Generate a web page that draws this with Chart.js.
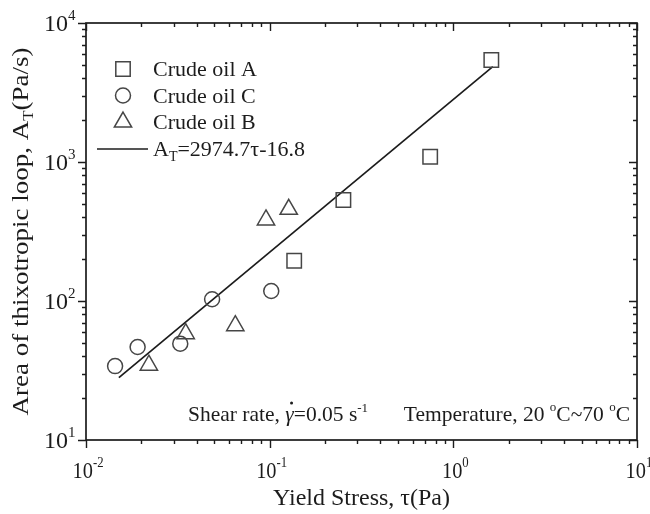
<!DOCTYPE html>
<html>
<head>
<meta charset="utf-8">
<script src="https://cdn.jsdelivr.net/npm/chart.js@4/dist/chart.umd.min.js"></script>
<style>
  html, body { margin: 0; padding: 0; background: #fff; }
  #wrap { width: 650px; height: 514px; }
</style>
</head>
<body>
<div id="wrap"><canvas id="loopChart" width="650" height="514"></canvas></div>
<script>
// yield stress (Pa) and thixotropic loop area (Pa/s) per crude
const oilA_tau = [1.61, 0.748, 0.252, 0.136];
const oilA_area = [5420, 1090, 533, 195];
const oilC_tau = [0.0144, 0.0191, 0.0326, 0.0486, 0.102];
const oilC_area = [34, 46.7, 49.3, 103, 118];
const oilB_tau = [0.022, 0.0349, 0.065, 0.0955, 0.127];
const oilB_area = [34.5, 58.2, 66.4, 383, 457];

// fitted line A_T = 2974.7τ - 16.8, drawn between its two end points
const fitTau = [0.0151, 1.64];
const fitArea = [28.1, 4861.7];

const xDecades = [-2, -1, 0, 1];
const yDecades = [1, 2, 3, 4];

const legendItems = [
  { style: 'rect', text: 'Crude oil A' },
  { style: 'circle', text: 'Crude oil C' },
  { style: 'triangle', text: 'Crude oil B' }
];

const ink = '#1c1c1c';
const markInk = '#464646';
const serif = '"Liberation Serif", "Times New Roman", serif';

function pts(xs, ys) {
  return xs.map((x, i) => ({ x: x, y: ys[i] }));
}

function font(size, italic) {
  return (italic ? 'italic ' : '') + size + 'px ' + serif;
}

// draws a row of text pieces (some raised or lowered); sx narrows the glyphs
function drawRuns(ctx, runs, x, y, align, sx) {
  sx = sx || 1;
  let total = 0;
  runs.forEach(r => {
    ctx.font = font(r.size, r.italic);
    r.w = ctx.measureText(r.t).width * sx;
    total += r.w;
  });
  let cx = align === 'center' ? x - total / 2 : align === 'right' ? x - total : x;
  ctx.textAlign = 'left';
  ctx.textBaseline = 'alphabetic';
  runs.forEach(r => {
    ctx.font = font(r.size, r.italic);
    ctx.save();
    ctx.translate(cx, y + (r.dy || 0));
    ctx.scale(sx, 1);
    ctx.fillText(r.t, 0, 0);
    ctx.restore();
    r.x = cx;
    cx += r.w;
  });
  return runs;
}

function decadeLabel(n, size) {
  return [
    { t: '10', size: size },
    { t: String(n), size: 15, dy: -11 }
  ];
}

function drawMarker(ctx, style, x, y) {
  ctx.beginPath();
  if (style === 'rect') {
    const s = 7.2;
    ctx.rect(x - s, y - s, 2 * s, 2 * s);
  } else if (style === 'circle') {
    ctx.arc(x, y, 7.5, 0, Math.PI * 2);
  } else {
    const r = 10;
    ctx.moveTo(x, y - r);
    ctx.lineTo(x + r * Math.sqrt(3) / 2, y + r / 2);
    ctx.lineTo(x - r * Math.sqrt(3) / 2, y + r / 2);
    ctx.closePath();
  }
  ctx.stroke();
}

const frame = {
  id: 'frame',
  afterDraw(chart) {
    const ctx = chart.ctx;
    const a = chart.chartArea;
    const xs = chart.scales.x;
    const ys = chart.scales.y;
    ctx.save();
    ctx.strokeStyle = ink;
    ctx.fillStyle = ink;

    // axis box
    ctx.lineWidth = 1.7;
    ctx.strokeRect(a.left, a.top, a.right - a.left, a.bottom - a.top);

    // tick marks: left/bottom point out, right/top mirror them
    ctx.lineWidth = 1.4;
    ctx.beginPath();
    for (let i = 0; i < xDecades.length; i++) {
      const d = xDecades[i];
      const last = i === xDecades.length - 1;
      for (let m = 1; m <= (last ? 1 : 9); m++) {
        const px = Math.round(xs.getPixelForValue(m * Math.pow(10, d))) + 0.5;
        const len = m === 1 ? 8 : 4;
        ctx.moveTo(px, a.bottom); ctx.lineTo(px, a.bottom + len);
        ctx.moveTo(px, a.top); ctx.lineTo(px, a.top + len);
      }
    }
    for (let i = 0; i < yDecades.length; i++) {
      const d = yDecades[i];
      const last = i === yDecades.length - 1;
      for (let m = 1; m <= (last ? 1 : 9); m++) {
        const py = Math.round(ys.getPixelForValue(m * Math.pow(10, d))) + 0.5;
        const len = m === 1 ? 8 : 4;
        ctx.moveTo(a.left, py); ctx.lineTo(a.left - len, py);
        ctx.moveTo(a.right, py); ctx.lineTo(a.right - len, py);
      }
    }
    ctx.stroke();

    // decade labels
    xDecades.forEach(d => {
      drawRuns(ctx, decadeLabel(d, 24), xs.getPixelForValue(Math.pow(10, d)) + 2, a.bottom + 38, 'center', 0.85);
    });
    yDecades.forEach(d => {
      ctx.font = font(24);
      const w10 = ctx.measureText('10').width;
      drawRuns(ctx, decadeLabel(d, 24), 68 - w10, ys.getPixelForValue(Math.pow(10, d)) + 8, 'left');
    });

    // axis titles
    drawRuns(ctx, [{ t: 'Yield Stress, τ(Pa)', size: 24 }], (a.left + a.right) / 2, 505, 'center');
    ctx.save();
    ctx.translate(28, (a.top + a.bottom) / 2);
    ctx.scale(0.88, 1);
    ctx.rotate(-Math.PI / 2);
    drawRuns(ctx, [
      { t: 'Area of thixotropic loop, A', size: 27 },
      { t: 'T', size: 17, dy: 6 },
      { t: '(Pa/s)', size: 27 }
    ], 0, 0, 'center');
    ctx.restore();

    // legend
    ctx.strokeStyle = markInk;
    ctx.lineWidth = 1.5;
    legendItems.forEach((it, i) => {
      const y = 69 + i * 26.5;
      drawMarker(ctx, it.style, 123, y);
      ctx.fillStyle = ink;
      drawRuns(ctx, [{ t: it.text, size: 22 }], 153, y + 7, 'left');
    });
    ctx.strokeStyle = ink;
    ctx.lineWidth = 1.6;
    ctx.beginPath();
    ctx.moveTo(97, 149);
    ctx.lineTo(148, 149);
    ctx.stroke();
    drawRuns(ctx, [
      { t: 'A', size: 22 },
      { t: 'T', size: 14, dy: 5 },
      { t: '=2974.7τ-16.8', size: 22 }
    ], 153, 156, 'left');

    // test conditions
    const base = 421;
    const cond = drawRuns(ctx, [
      { t: 'Shear rate, ', size: 21.5 },
      { t: 'γ', size: 21.5, italic: true },
      { t: '=0.05 s', size: 21.5 },
      { t: '-1', size: 13, dy: -9 }
    ], 188, base, 'left');
    const g = cond[1];
    ctx.beginPath();
    ctx.arc(g.x + g.w / 2 + 2, base - 18, 1.5, 0, Math.PI * 2);
    ctx.fill();

    drawRuns(ctx, [
      { t: 'Temperature, 20 ', size: 21.5 },
      { t: 'o', size: 13, dy: -10 },
      { t: 'C~70 ', size: 21.5 },
      { t: 'o', size: 13, dy: -10 },
      { t: 'C', size: 21.5 }
    ], 630, base, 'right');

    ctx.restore();
  }
};

const markSet = {
  showLine: false,
  borderColor: markInk,
  backgroundColor: 'rgba(0,0,0,0)',
  pointBorderWidth: 1.5,
  pointHoverRadius: 0
};

// axes keep no room of their own; the frame plugin draws ticks and labels
const bareAxis = {
  ticks: { display: false },
  grid: { display: false, drawTicks: false },
  border: { display: false },
  afterFit(s) {
    if (s.isHorizontal()) s.height = 0; else s.width = 0;
  }
};

new Chart(document.getElementById('loopChart').getContext('2d'), {
  type: 'scatter',
  data: {
    datasets: [
      Object.assign({ label: 'Crude oil A', data: pts(oilA_tau, oilA_area), pointStyle: 'rect', pointRadius: 10.2 }, markSet),
      Object.assign({ label: 'Crude oil C', data: pts(oilC_tau, oilC_area), pointStyle: 'circle', pointRadius: 7.5 }, markSet),
      Object.assign({ label: 'Crude oil B', data: pts(oilB_tau, oilB_area), pointStyle: 'triangle', pointRadius: 10 }, markSet),
      {
        type: 'line',
        label: 'A_T=2974.7τ-16.8',
        data: pts(fitTau, fitArea),
        borderColor: ink,
        borderWidth: 1.7,
        pointRadius: 0,
        tension: 0,
        fill: false
      }
    ]
  },
  options: {
    responsive: false,
    animation: false,
    layout: { padding: { left: 86, right: 13, top: 23, bottom: 74 } },
    plugins: { legend: { display: false }, tooltip: { enabled: false } },
    scales: {
      x: Object.assign({ type: 'logarithmic', min: 0.01, max: 10 }, bareAxis),
      y: Object.assign({ type: 'logarithmic', min: 10, max: 10000 }, bareAxis)
    }
  },
  plugins: [frame]
});
</script>
</body>
</html>
